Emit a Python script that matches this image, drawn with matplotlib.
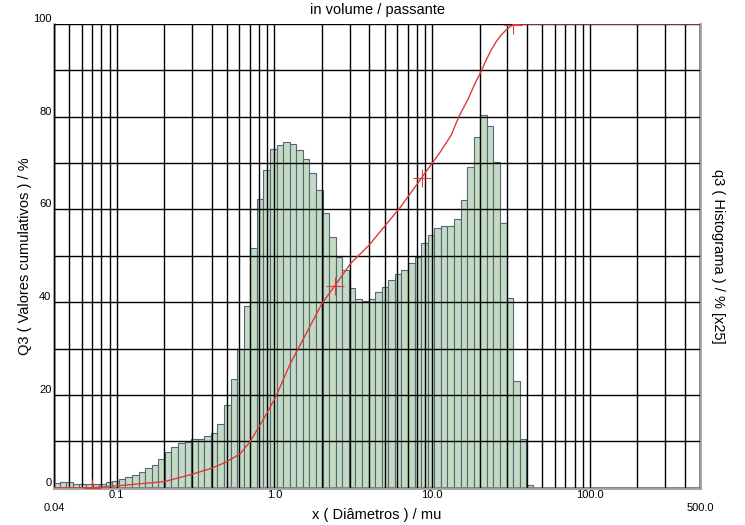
import matplotlib
matplotlib.use("Agg")
import matplotlib.pyplot as plt
from matplotlib.ticker import LogLocator, NullFormatter, FixedLocator
import numpy as np

plt.rcParams['font.family'] = ['Liberation Sans', 'DejaVu Sans']

# class edges of the histogram (mu), 24 classes per decade
bin_edges = [0.0395, 0.0435, 0.0479, 0.0527, 0.0580, 0.0639, 0.0703, 0.0774, 0.0852, 0.0937,
             0.1032, 0.1136, 0.125, 0.1376, 0.1514, 0.1667, 0.1835, 0.2020, 0.2223, 0.2447,
             0.2693, 0.2964, 0.3263, 0.3591, 0.3953, 0.4351, 0.4789, 0.5271, 0.5802, 0.6386,
             0.7029, 0.7737, 0.8516, 0.9373, 1.0318, 1.1356, 1.25, 1.3759, 1.5144, 1.6669,
             1.8348, 2.0195, 2.2229, 2.4467, 2.6931, 2.9643, 3.2628, 3.5913, 3.9529, 4.3510,
             4.7891, 5.2713, 5.8021, 6.3863, 7.0293, 7.7371, 8.5162, 9.3737, 10.318, 11.357,
             12.5, 13.759, 15.144, 16.669, 18.348, 20.195, 22.229, 24.467, 26.931, 29.643,
             32.628, 35.913, 39.529, 43.510]

# q3 histogram (% x25)
hist_q3 = [1.1, 1.15, 1.15, 0.9, 0.85, 0.85, 0.85, 0.85, 1.2, 1.5,
           1.9, 2.2, 2.7, 3.45, 4.2, 5.0, 6.1, 7.8, 8.7, 9.6,
           9.9, 10.4, 10.6, 11.1, 11.7, 13.7, 17.8, 23.4, 30.0, 39.2,
           51.6, 62.3, 68.5, 73.0, 74.0, 74.5, 74.1, 72.8, 70.8, 67.8,
           64.2, 59.2, 54.0, 49.8, 46.9, 43.0, 40.8, 40.3, 40.6, 42.1,
           43.3, 44.8, 46.1, 46.9, 48.4, 49.8, 52.7, 54.6, 55.9, 56.5,
           56.5, 57.9, 62.0, 69.1, 75.6, 80.3, 77.9, 70.2, 57.0, 41.0,
           23.0, 10.6, 0.6]

# Q3 cumulative curve
cum_d = [0.04, 0.07, 0.1, 0.2, 0.3, 0.4, 0.5, 0.61, 0.70, 0.86, 1.02, 1.25, 1.40,
         2.01, 2.42, 3.05, 3.98, 5.09, 6.33, 8.57, 10.07, 11.37, 13.2, 14.86, 16.8,
         18.5, 20.4, 22.0, 23.7, 25.5, 27.4, 29.6, 32.5, 36.7, 500.0]
cum_q3 = [0.0, 0.0, 0.4, 1.3, 2.9, 4.2, 5.6, 7.4, 9.9, 15.0, 19.6, 26.5, 29.7,
          39.8, 43.6, 48.4, 52.3, 56.7, 60.6, 66.8, 70.1, 72.6, 76.0, 80.2, 83.6,
          86.8, 89.7, 92.2, 94.4, 96.2, 97.6, 98.8, 99.8, 100.0, 100.0]

mark_d = [0.07, 2.42, 8.57, 32.5]
mark_q3 = [0.0, 43.6, 66.8, 99.8]

y_labels = [0, 20, 40, 60, 80, 100]
x_labels = ['0.1', '1.0', '10.0', '100.0']
x_end_labels = ['0.04', '500.0']

fig = plt.figure(figsize=(7.45, 5.25), dpi=100)
ax = fig.add_axes([54 / 745, 37.3 / 525, 646 / 745, 463.7 / 525])

widths = np.diff(bin_edges)
ax.bar(bin_edges[:-1], hist_q3, width=widths, align='edge',
       color='#c3dbc3', edgecolor='#56657a', linewidth=0.8, zorder=1)

ax.plot(cum_d, cum_q3, color='#e03a3a', lw=1.0, zorder=4)
ax.plot(mark_d, mark_q3, ls='none', marker='+', ms=13, mew=0.8,
        color='#e03a3a', zorder=5)

ax.set_xscale('log')
ax.set_xlim(0.04, 500)
ax.set_ylim(0, 100)

ax.xaxis.set_major_locator(LogLocator(base=10, subs=(1.0,)))
ax.xaxis.set_minor_locator(LogLocator(base=10, subs=np.arange(2, 10), numticks=20))
ax.xaxis.set_major_formatter(NullFormatter())
ax.xaxis.set_minor_formatter(NullFormatter())
ax.yaxis.set_major_locator(FixedLocator(np.arange(0, 101, 10)))
ax.set_yticklabels([])
ax.tick_params(which='both', length=0)

ax.set_axisbelow(False)
ax.grid(True, which='both', axis='x', color='black', lw=1.0, zorder=2)
ax.grid(True, which='major', axis='y', color='black', lw=1.0, zorder=2)

for s in ['left', 'bottom', 'right']:
    ax.spines[s].set_color('#a0a0a0')
    ax.spines[s].set_linewidth(2)
ax.spines['top'].set_visible(False)

for v in y_labels:
    ax.text(-0.004, v, str(v), transform=ax.get_yaxis_transform(),
            ha='right', va='bottom', fontsize=8)

for lab in x_labels:
    ax.text(float(lab), -0.006, lab, transform=ax.get_xaxis_transform(),
            ha='center', va='top', fontsize=8)
ax.text(0.04, -0.034, x_end_labels[0], transform=ax.get_xaxis_transform(),
        ha='center', va='top', fontsize=8)
ax.text(500, -0.034, x_end_labels[1], transform=ax.get_xaxis_transform(),
        ha='center', va='top', fontsize=8)

ax.text(0.5, 1.03, 'in volume / passante', transform=ax.transAxes,
        ha='center', va='center', fontsize=10.5)
ax.text(0.5, -0.059, 'x ( Diâmetros ) / mu', transform=ax.transAxes,
        ha='center', va='center', fontsize=10.5)
ax.text(-0.045, 0.5, 'Q3 ( Valores cumulativos ) / %', transform=ax.transAxes,
        ha='center', va='center', rotation=90, fontsize=10.5)
ax.text(1.028, 0.5, 'q3 ( Histograma ) / % [x25]', transform=ax.transAxes,
        ha='center', va='center', rotation=270, fontsize=10.5)

fig.savefig('out.png', dpi=100)
